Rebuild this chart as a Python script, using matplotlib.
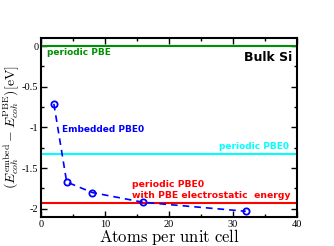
import matplotlib
matplotlib.use("Agg")
from matplotlib import pyplot as plt

atoms = [2, 4, 8, 16, 32]
embedded = [-0.71, -1.67, -1.80, -1.92, -2.03]
periodic_pbe = 0.0
periodic_pbe0 = -1.33
periodic_pbe0_es = -1.925

yticks = [0, -0.5, -1, -1.5, -2]
ytick_labels = ["0", "-0.5", "-1", "-1.5", "-2"]
xticks = [0, 10, 20, 30, 40]

plt.rcParams['mathtext.fontset'] = 'cm'

fig = plt.figure(figsize=(3.34, 2.46), dpi=100)
ax = fig.add_axes([0.123, 0.118, 0.766, 0.728])

ax.axhline(periodic_pbe, color='#009000', lw=1.5)
ax.axhline(periodic_pbe0, color='#00ffff', lw=1.5)
ax.axhline(periodic_pbe0_es, color='#ff0000', lw=1.5)
ax.plot(atoms, embedded, '--o', color='#0000ff', lw=1.2, dashes=(4, 3),
        mfc='none', mec='#0000ff', ms=4.5, mew=1.3)

ax.set_xlim(0, 40)
ax.set_ylim(-2.1, 0.1)
ax.set_xticks(xticks)
ax.set_xticklabels([str(x) for x in xticks], family='Liberation Serif', fontsize=7.5)
ax.set_xticks([5, 15, 25, 35], minor=True)
ax.set_yticks(yticks)
ax.set_yticklabels(ytick_labels, family='Liberation Serif', fontsize=7.5)
ax.set_yticks([-0.25, -0.75, -1.25, -1.75], minor=True)
ax.tick_params(which='both', direction='in', top=True, right=True, pad=2)
ax.tick_params(which='major', length=4, width=1)
ax.tick_params(which='minor', length=2, width=1)
for s in ax.spines.values():
    s.set_linewidth(1.5)

ax.set_xlabel(r'$\mathrm{Atoms\ per\ unit\ cell}$', fontsize=12, labelpad=-1)
ax.set_ylabel(r'$(E_{coh}^{\rm embed}-E_{coh}^{\rm PBE})[\mathrm{eV}]$', fontsize=10)
ax.yaxis.set_label_coords(-0.078, 0.5)

ax.text(1.0, -0.08, 'periodic PBE', color='#009000', fontsize=6.5, fontweight='bold', va='center')
ax.text(39.3, -0.14, 'Bulk Si', color='black', fontsize=9, fontweight='bold', ha='right', va='center')
ax.text(3.3, -1.02, 'Embedded PBE0', color='#0000ff', fontsize=6.5, fontweight='bold', va='center')
ax.text(38.7, -1.24, 'periodic PBE0', color='#00ffff', fontsize=6.5, fontweight='bold', ha='right', va='center')
ax.text(14.2, -1.77, 'periodic PBE0\nwith PBE electrostatic  energy', color='#ff0000', fontsize=6.7,
        fontweight='bold', va='center', linespacing=1.3)

fig.savefig('out.png', dpi=100)
